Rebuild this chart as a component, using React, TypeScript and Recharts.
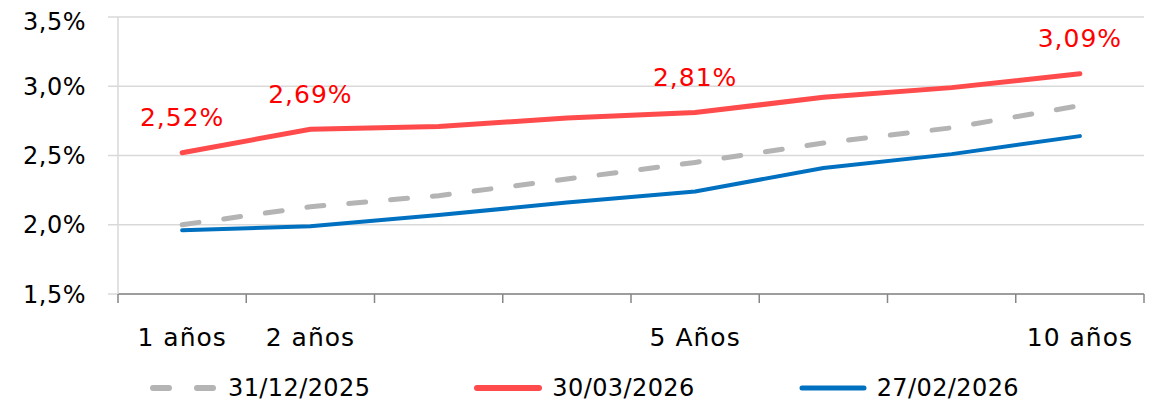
import { CartesianGrid, LabelList, Legend, Line, LineChart, XAxis, YAxis } from 'recharts';

const CATEGORIES = ['1 años', '2 años', '', '', '5 Años', '', '', '10 años'];
const DEC_2025 = [2.0, 2.13, 2.21, 2.33, 2.45, 2.59, 2.7, 2.86];
const MAR_2026 = [2.52, 2.69, 2.71, 2.77, 2.81, 2.92, 2.99, 3.09];
const FEB_2026 = [1.96, 1.99, 2.07, 2.16, 2.24, 2.41, 2.51, 2.64];
const Y_TICKS = [1.5, 2, 2.5, 3, 3.5];

const SERIES = [
  { key: 'dec', name: '31/12/2025', color: '#B4B4B4', width: 5, dash: '17 25' },
  { key: 'mar', name: '30/03/2026', color: '#FF4B4B', width: 5, dash: undefined },
  { key: 'feb', name: '27/02/2026', color: '#0070C0', width: 4, dash: undefined },
];

const data = CATEGORIES.map((label, i) => ({
  pos: i + 0.5,
  label,
  dec: DEC_2025[i],
  mar: MAR_2026[i],
  feb: FEB_2026[i],
}));

const boundaries = CATEGORIES.map((_, i) => i).concat(CATEGORIES.length);
const xTicks = [...boundaries, ...data.map((d) => d.pos)].sort((a, b) => a - b);

const fmtPct = (v: number, digits: number) => `${v.toFixed(digits).replace('.', ',')}%`;

function XTick(props: any) {
  const { x, y, payload } = props;
  const v = payload.value as number;
  if (Number.isInteger(v)) {
    return <line x1={x} y1={y} x2={x} y2={y + 9} stroke="#868686" strokeWidth={1.5} />;
  }
  const label = CATEGORIES[Math.floor(v)];
  return (
    <text x={x} y={y + 52} textAnchor="middle" fill="#000" fontSize={25} letterSpacing={1}>
      {label}
    </text>
  );
}

function PeakLabel(props: any) {
  const { x, y, index, value } = props;
  if (!CATEGORIES[index]) return null;
  return (
    <text
      x={x}
      y={y - 35}
      textAnchor="middle"
      dominantBaseline="central"
      fill="#FF0000"
      fontSize={25}
      letterSpacing={1}
    >
      {fmtPct(value, 2)}
    </text>
  );
}

function LegendBox() {
  return (
    <div style={{ display: 'flex', alignItems: 'center', height: 36, paddingLeft: 142, gap: 104 }}>
      {SERIES.map((s) => (
        <div key={s.key} style={{ display: 'flex', alignItems: 'center', gap: 10 }}>
          <svg width={68} height={10}>
            <line
              x1={3}
              y1={5}
              x2={65}
              y2={5}
              stroke={s.color}
              strokeWidth={s.width + 1}
              strokeLinecap="round"
              strokeDasharray={s.dash ? '16 28' : undefined}
            />
          </svg>
          <span style={{ fontSize: 24, color: '#000', letterSpacing: 0.4 }}>{s.name}</span>
        </div>
      ))}
    </div>
  );
}

export default function App() {
  return (
    <div style={{ fontFamily: '"DejaVu Sans", sans-serif' }}>
      <LineChart width={1153} height={398} data={data} margin={{ top: 9, right: 17, left: 0, bottom: 0 }}>
        <CartesianGrid vertical={false} stroke="#D9D9D9" strokeWidth={1.5} />
        <XAxis
          dataKey="pos"
          type="number"
          domain={[0, CATEGORIES.length]}
          ticks={xTicks}
          interval={0}
          tickLine={false}
          tickSize={0}
          tickMargin={0}
          height={76}
          axisLine={{ stroke: '#868686', strokeWidth: 1.5 }}
          tick={<XTick />}
        />
        <YAxis
          type="number"
          domain={[1.5, 3.5]}
          ticks={Y_TICKS}
          width={110}
          tickSize={10}
          tickMargin={22}
          tickLine={{ stroke: '#D9D9D9', strokeWidth: 1.5 }}
          axisLine={{ stroke: '#D9D9D9', strokeWidth: 1.5 }}
          tick={{ fill: '#000', fontSize: 24, letterSpacing: 0.5 }}
          tickFormatter={(v: number) => fmtPct(v, 1)}
        />
        <Legend verticalAlign="bottom" content={() => <LegendBox />} />
        {SERIES.map((s) => (
          <Line
            key={s.key}
            type="linear"
            dataKey={s.key}
            name={s.name}
            stroke={s.color}
            strokeWidth={s.width}
            strokeDasharray={s.dash}
            strokeLinecap="round"
            dot={false}
            activeDot={false}
            isAnimationActive={false}
          >
            {s.key === 'mar' && <LabelList dataKey="mar" content={<PeakLabel />} />}
          </Line>
        ))}
      </LineChart>
    </div>
  );
}
